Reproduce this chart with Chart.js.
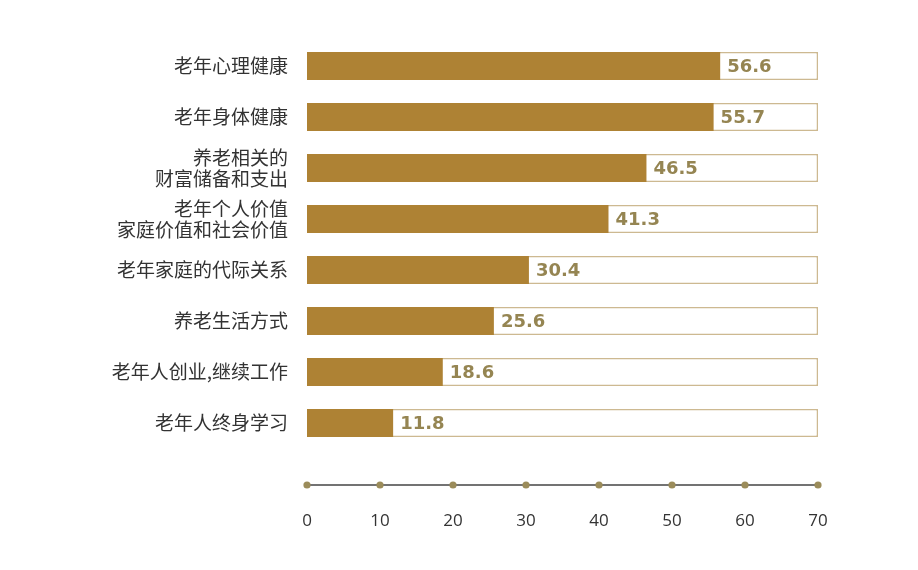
<!DOCTYPE html>
<html lang="zh">
<head>
    <meta charset="UTF-8">
    <title>养老关注议题</title>
    <script src="https://cdn.jsdelivr.net/npm/chart.js"></script>
    <style>
        html, body { margin: 0; padding: 0; background: #fff; }
        .wrap { width: 918px; height: 570px; }
    </style>
</head>
<body>
<div class="wrap"><canvas id="topicChart" width="918" height="570"></canvas></div>

<script>
// categories, top to bottom
const topics = [
    '老年心理健康',
    '老年身体健康',
    ['养老相关的', '财富储备和支出'],
    ['老年个人价值', '家庭价值和社会价值'],
    '老年家庭的代际关系',
    '养老生活方式',
    '老年人创业,继续工作',
    '老年人终身学习'
];
const shares = [56.6, 55.7, 46.5, 41.3, 30.4, 25.6, 18.6, 11.8];
// full-length track behind each bar
const trackValues = [70, 70, 70, 70, 70, 70, 70, 70];
const xTicks = [0, 10, 20, 30, 40, 50, 60, 70];

const BAR = '#ae8234';
const TEXT = '#333333';

// value text just after the end of the filled bar
const valueLabels = {
    id: 'valueLabels',
    afterDatasetsDraw(chart) {
        const ctx = chart.ctx;
        const meta = chart.getDatasetMeta(0);
        ctx.save();
        ctx.font = 'bold 18px "DejaVu Sans", sans-serif';
        ctx.fillStyle = '#958552';
        ctx.textAlign = 'left';
        ctx.textBaseline = 'middle';
        meta.data.forEach((bar, i) => {
            ctx.fillText(shares[i].toFixed(1), bar.x + 7, bar.y + 1);
        });
        ctx.restore();
    }
};

// detached axis line with a dot on every tick
const dottedAxis = {
    id: 'dottedAxis',
    afterDraw(chart) {
        const ctx = chart.ctx;
        const x = chart.scales.x;
        const y = chart.chartArea.bottom + 36.5;
        ctx.save();
        ctx.strokeStyle = '#444';
        ctx.lineWidth = 1.5;
        ctx.beginPath();
        ctx.moveTo(x.getPixelForValue(xTicks[0]), y);
        ctx.lineTo(x.getPixelForValue(xTicks[xTicks.length - 1]), y);
        ctx.stroke();
        ctx.fillStyle = '#9b8c5a';
        xTicks.forEach(v => {
            ctx.beginPath();
            ctx.arc(x.getPixelForValue(v), y, 3.6, 0, Math.PI * 2);
            ctx.fill();
        });
        ctx.restore();
    }
};

new Chart(document.getElementById('topicChart'), {
    type: 'bar',
    data: {
        labels: topics,
        datasets: [
            {
                data: shares,
                backgroundColor: BAR,
                borderWidth: 0,
                grouped: false,
                categoryPercentage: 0.55,
                barPercentage: 1
            },
            {
                data: trackValues,
                backgroundColor: '#ffffff',
                borderColor: '#cdb991',
                borderWidth: 1.5,
                borderSkipped: false,
                grouped: false,
                categoryPercentage: 0.55,
                barPercentage: 1
            }
        ]
    },
    options: {
        indexAxis: 'y',
        responsive: false,
        animation: false,
        layout: { padding: { top: 40.5, right: 100, left: 0, bottom: 0 } },
        plugins: {
            legend: { display: false },
            tooltip: { enabled: false }
        },
        scales: {
            x: {
                min: 0,
                max: 70,
                afterBuildTicks: s => { s.ticks = xTicks.map(v => ({ value: v })); },
                afterFit: s => { s.height = 121.5; },
                grid: { display: false },
                border: { display: false },
                ticks: {
                    padding: 54,
                    color: TEXT,
                    font: { family: '"Open Sans", "DejaVu Sans", sans-serif', size: 17 }
                }
            },
            y: {
                afterFit: s => { s.width = 307; },
                grid: { display: false },
                border: { display: false },
                ticks: {
                    padding: 11,
                    color: TEXT,
                    font: { family: '"Noto Sans CJK SC", sans-serif', size: 19, lineHeight: 1.1 }
                }
            }
        }
    },
    plugins: [valueLabels, dottedAxis]
});
</script>
</body>
</html>
